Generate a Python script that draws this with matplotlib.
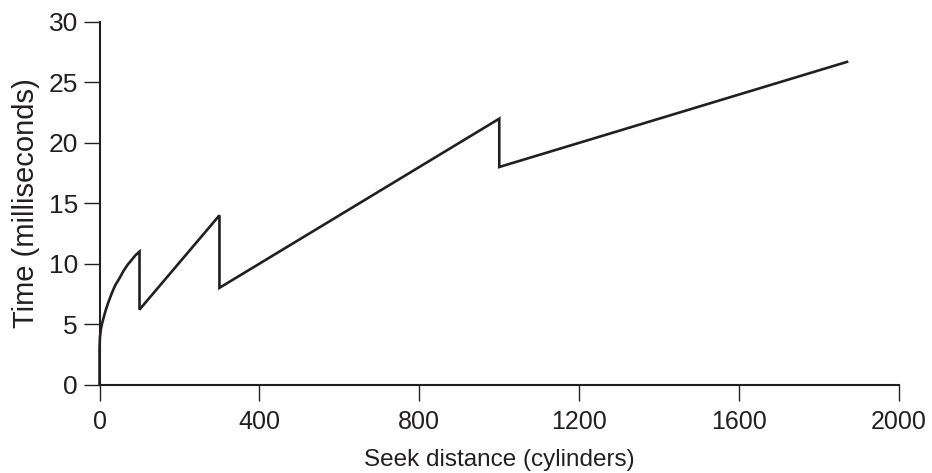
import matplotlib
matplotlib.use("Agg")
import matplotlib.pyplot as plt

# values
seek_distance = [0, 0, 1, 3, 6, 10, 15, 22, 30, 39, 50, 60, 70, 80, 90, 100,
                 100, 300, 300, 1000, 1000, 1870]
seek_time = [0.0, 3.0, 3.9, 4.5, 5.0, 5.5, 6.1, 6.8, 7.5, 8.2, 8.8, 9.4,
             9.9, 10.3, 10.7, 11.0,
             6.2, 14.0, 8.0, 22.0, 18.0, 26.7]
x_ticks = [0, 400, 800, 1200, 1600, 2000]
y_ticks = [0, 5, 10, 15, 20, 25, 30]

ink = "#231f20"
plt.rcParams["font.family"] = ["Liberation Sans", "DejaVu Sans"]

fig = plt.figure(figsize=(9.32, 4.73), dpi=100)
ax = fig.add_axes([0.1068, 0.1871, 0.8578, 0.7664])

ax.plot(seek_distance, seek_time, color=ink, linewidth=1.9,
        solid_joinstyle="miter", clip_on=False, zorder=3)

ax.set_xlim(0, 2000)
ax.set_ylim(0, 30)
ax.set_xticks(x_ticks)
ax.set_yticks(y_ticks)

for side in ["top", "right"]:
    ax.spines[side].set_visible(False)
for side in ["left", "bottom"]:
    ax.spines[side].set_linewidth(1.5)
    ax.spines[side].set_color(ink)

ax.tick_params(axis="both", direction="out", length=11.5, width=1.0,
               colors=ink)
ax.tick_params(axis="x", labelsize=18, pad=7)
ax.tick_params(axis="y", labelsize=19, pad=4)

ax.set_xlabel("Seek distance (cylinders)", fontsize=17.5, color=ink, labelpad=11)
ax.set_ylabel("Time (milliseconds)", fontsize=21, color=ink, labelpad=6)

fig.savefig("out.png", dpi=100)
